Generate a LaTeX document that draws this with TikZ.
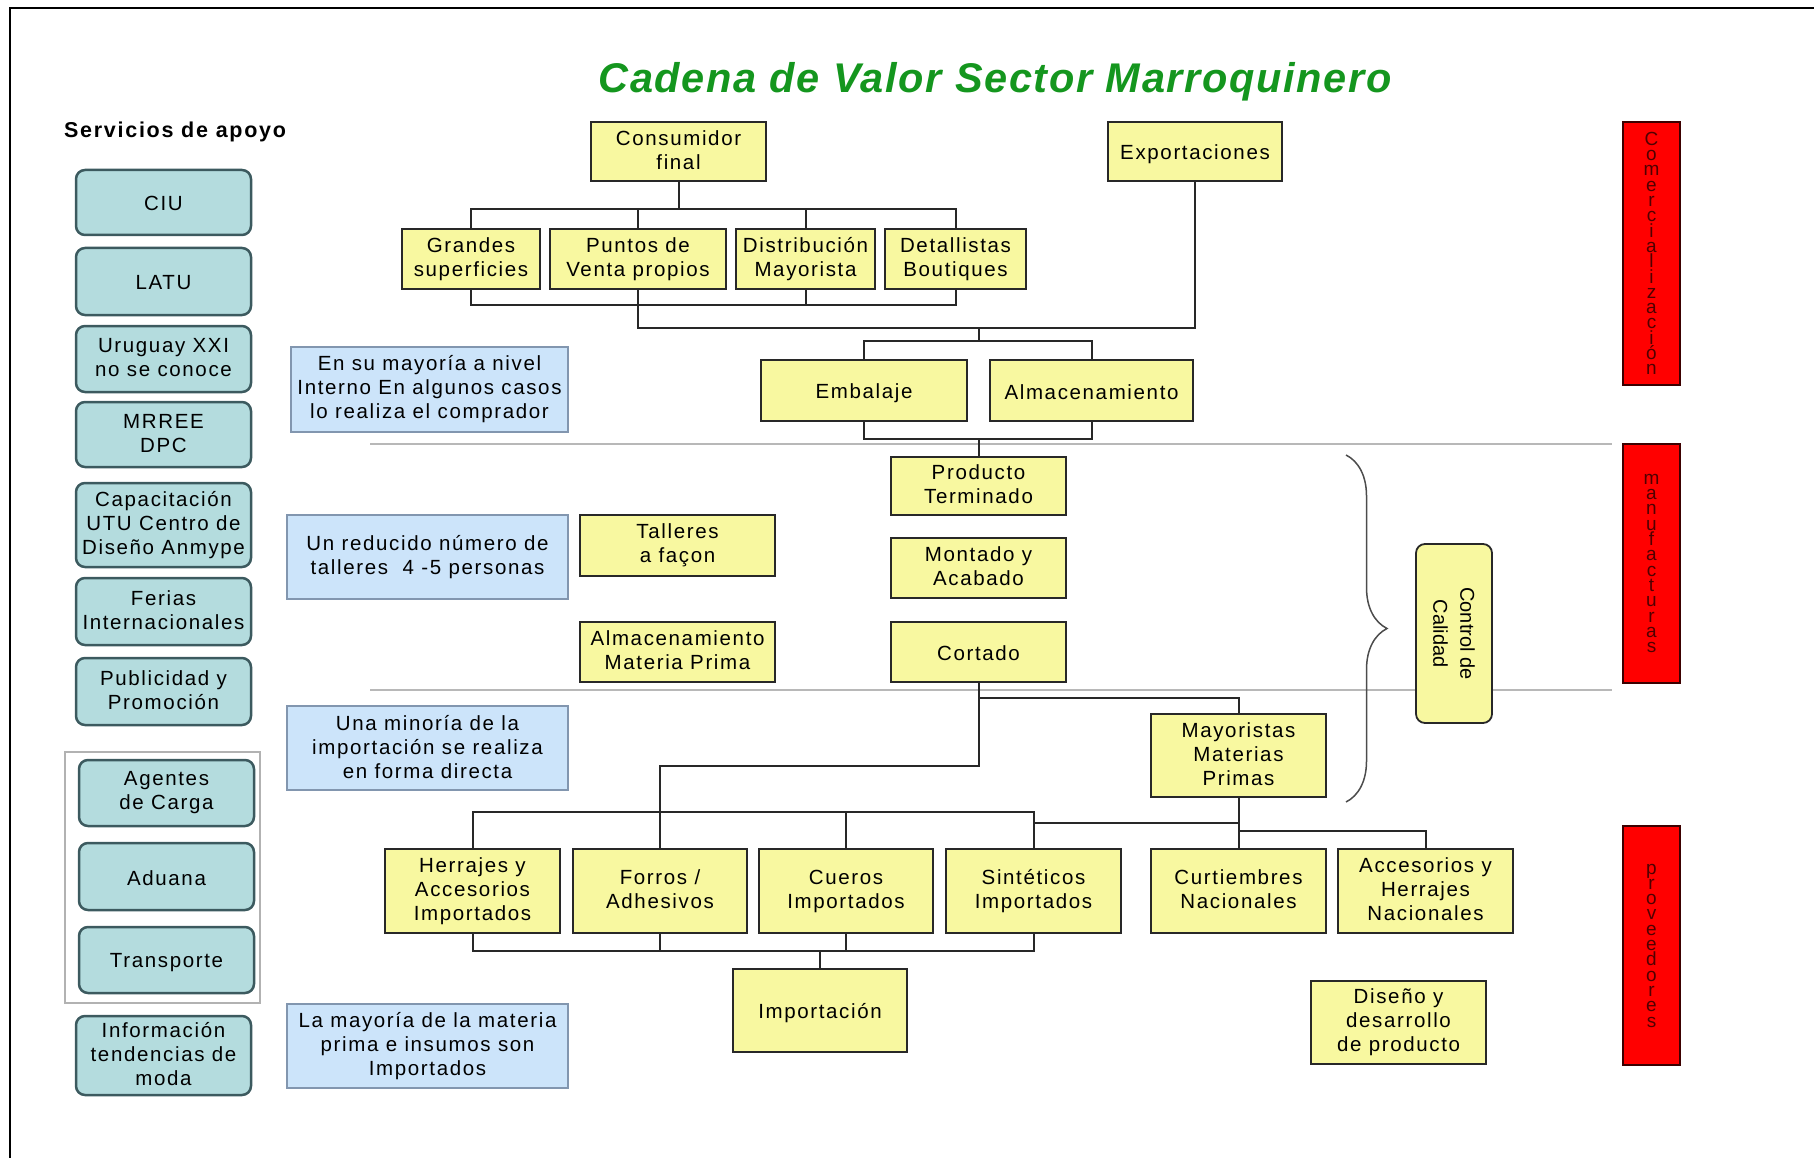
\documentclass[tikz,border=0pt]{standalone}
\usepackage{fontspec}
\setmainfont[LetterSpace=8]{Liberation Sans}
\newfontfamily\plainsans{Liberation Sans}
\newfontfamily\titlesans[LetterSpace=4]{Liberation Sans}
\usetikzlibrary{decorations.pathreplacing}
\definecolor{yfill}{RGB}{248,248,160}
\definecolor{tfill}{RGB}{180,220,222}
\definecolor{tdraw}{RGB}{60,90,95}
\definecolor{nfill}{RGB}{204,228,250}
\definecolor{ndraw}{RGB}{130,150,175}
\definecolor{lnc}{RGB}{40,40,40}
\definecolor{titlegreen}{RGB}{20,150,30}
\definecolor{barred}{RGB}{255,0,0}
\definecolor{bardraw}{RGB}{60,0,0}
\definecolor{bartxt}{RGB}{80,0,0}
\newcommand\bxfont{\fontsize{20.5}{24}\selectfont}
\begin{document}
\begin{tikzpicture}[x=1pt,y=-1pt,
  txtpos/.style={execute at begin node={\rule{0pt}{20pt}}, execute at end node={\rule[-3pt]{0pt}{3pt}}},
  ybox/.style={draw=lnc, line width=1.8pt, fill=yfill, align=center, inner sep=0pt, font=\bxfont, txtpos},
  tbox/.style={draw=tdraw, line width=2.5pt, fill=tfill, rounded corners=9pt, align=center, inner sep=0pt, minimum width=175pt, font=\bxfont, txtpos},
  nbox/.style={draw=ndraw, line width=1.3pt, fill=nfill, align=center, inner sep=0pt, font=\bxfont, txtpos},
  rbar/.style={draw=bardraw, line width=1.8pt, fill=barred, minimum width=57pt, inner sep=0pt},
  rtxt/.style={text=bartxt, align=center, inner sep=0pt, font={\plainsans\fontsize{19}{15.3}\selectfont\lineskiplimit=-20pt}},
  conn/.style={draw=lnc, line width=2pt},
  sepline/.style={draw=black!28, line width=1.8pt}]
\useasboundingbox (0,0) rectangle (1814,1158);
% frame
\draw[line width=2.5pt] (10,1158) -- (10,8) -- (1814,8);
% title
\node[anchor=base, text=titlegreen, inner sep=0pt, font={\titlesans\bfseries\itshape\fontsize{41.5}{48}\selectfont}] (title) at (995,93) {Cadena de Valor Sector Marroquinero};
\node[anchor=base west, inner sep=0pt, font={\bfseries\fontsize{21.5}{24}\selectfont}] (serv) at (64,138) {Servicios de apoyo};
% separator lines
\draw[sepline] (370,444) -- (1612,444);
\draw[sepline] (370,690) -- (1612,690);
% support services
\node[tbox, minimum height=65pt] (ciu) at (163.5,202.5) {CIU};
\node[tbox, minimum height=67pt] (latu) at (163.5,281.5) {LATU};
\node[tbox, minimum height=66pt] (uru) at (163.5,359) {Uruguay XXI\\no se conoce};
\node[tbox, minimum height=65pt] (mrree) at (163.5,434.5) {MRREE\\DPC};
\node[tbox, minimum height=84pt] (capac) at (163.5,525) {Capacitación\\UTU Centro de\\Diseño Anmype};
\node[tbox, minimum height=67pt] (ferias) at (163.5,611.5) {Ferias\\Internacionales};
\node[tbox, minimum height=67pt] (publi) at (163.5,691.5) {Publicidad y\\Promoción};
\draw[draw=black!30, line width=1.5pt] (65,752) rectangle (260,1003);
\node[tbox, minimum height=66pt] (agen) at (166.5,793) {Agentes\\de Carga};
\node[tbox, minimum height=67pt] (adua) at (166.5,876.5) {Aduana};
\node[tbox, minimum height=66pt] (trans) at (166.5,960) {Transporte};
\node[tbox, minimum height=79pt] (info) at (163.5,1055.5) {Información\\tendencias de\\moda};
% notes
\node[nbox, minimum width=277pt, minimum height=85pt] (n1) at (429.5,389.5) {En su mayoría a nivel\\Interno En algunos casos\\lo realiza el comprador};
\node[nbox, minimum width=281pt, minimum height=84pt] (n2) at (427.5,557) {Un reducido número de\\talleres\ \ 4 -5 personas};
\node[nbox, minimum width=281pt, minimum height=84pt] (n3) at (427.5,748) {Una minoría de la\\importación se realiza\\en forma directa};
\node[nbox, minimum width=281pt, minimum height=84pt] (n4) at (427.5,1046) {La mayoría de la materia\\prima e insumos son\\Importados};
% yellow boxes
\node[ybox, minimum width=175pt, minimum height=59pt] (cons) at (678.5,151.5) {Consumidor\\final};
\node[ybox, minimum width=174pt, minimum height=59pt] (expo) at (1195,151.5) {Exportaciones};
\node[ybox, minimum width=138pt, minimum height=60pt] (grand) at (471,259) {Grandes\\superficies};
\node[ybox, minimum width=176pt, minimum height=60pt] (punt) at (638,259) {Puntos de\\Venta propios};
\node[ybox, minimum width=139pt, minimum height=60pt] (distr) at (805.5,259) {Distribución\\Mayorista};
\node[ybox, minimum width=141pt, minimum height=60pt] (detal) at (955.5,259) {Detallistas\\Boutiques};
\node[ybox, minimum width=206pt, minimum height=61pt] (emb) at (864,390.5) {Embalaje};
\node[ybox, minimum width=203pt, minimum height=61pt] (alm) at (1091.5,390.5) {Almacenamiento};
\node[ybox, minimum width=175pt, minimum height=58pt] (prod) at (978.5,486) {Producto\\Terminado};
\node[ybox, minimum width=175pt, minimum height=60pt] (mont) at (978.5,568) {Montado y\\Acabado};
\node[ybox, minimum width=175pt, minimum height=60pt] (cort) at (978.5,652) {Cortado};
\node[ybox, minimum width=195pt, minimum height=61pt] (tall) at (677.5,545.5) {Talleres\\a façon};
\node[ybox, minimum width=195pt, minimum height=60pt] (almp) at (677.5,652) {Almacenamiento\\Materia Prima};
\node[ybox, minimum width=175pt, minimum height=83pt] (mayo) at (1238.5,755.5) {Mayoristas\\Materias\\Primas};
\node[ybox, minimum width=175pt, minimum height=84pt] (herr) at (472.5,891) {Herrajes y\\Accesorios\\Importados};
\node[ybox, minimum width=174pt, minimum height=84pt] (forr) at (660,891) {Forros /\\Adhesivos};
\node[ybox, minimum width=174pt, minimum height=84pt] (cuer) at (846,891) {Cueros\\Importados};
\node[ybox, minimum width=175pt, minimum height=84pt] (sint) at (1033.5,891) {Sintéticos\\Importados};
\node[ybox, minimum width=175pt, minimum height=84pt] (curt) at (1238.5,891) {Curtiembres\\Nacionales};
\node[ybox, minimum width=175pt, minimum height=84pt] (acce) at (1425.5,891) {Accesorios y\\Herrajes\\Nacionales};
\node[ybox, minimum width=174pt, minimum height=83pt] (impo) at (820,1010.5) {Importación};
\node[ybox, minimum width=175pt, minimum height=83pt] (dise) at (1398.5,1022.5) {Diseño y\\desarrollo\\de producto};
\node[ybox, rounded corners=9pt, minimum width=76pt, minimum height=179pt] (ctrl) at (1454,633.5) {};
\node[rotate=-90, align=center, inner sep=0pt, font={\plainsans\fontsize{20}{27}\selectfont}] (ctrltxt) at (ctrl.center) {Control de\\Calidad};
% brace
\draw[draw=black!70, line width=1.5pt, decorate, decoration={brace, amplitude=41pt}] (1346,455) -- (1346,802);
% red bars
\node[rbar, minimum height=263pt] (com) at (1651.5,253.5) {};
\node[rtxt] (comt) at (com.center) {C\\o\\m\\e\\r\\c\\i\\a\\l\\i\\z\\a\\c\\i\\ó\\n};
\node[rbar, minimum height=239pt] (man) at (1651.5,563.5) {};
\node[rtxt] (mant) at (man.center) {m\\a\\n\\u\\f\\a\\c\\t\\u\\r\\a\\s};
\node[rbar, minimum height=239pt] (prov) at (1651.5,945.5) {};
\node[rtxt] (provt) at (prov.center) {p\\r\\o\\v\\e\\e\\d\\o\\r\\e\\s};
% connector levels
\coordinate (b1) at (0,209);
\coordinate (b2) at (0,305);
\coordinate (b3) at (0,328);
\coordinate (b4) at (0,341);
\coordinate (b5) at (0,439);
\coordinate (b6) at (0,698);
\coordinate (b7) at (0,766);
\coordinate (b8) at (0,812);
\coordinate (b9) at (0,823);
\coordinate (b10) at (0,831);
\coordinate (b11) at (0,951);
% top tree
\draw[conn] (cons.south) -- (cons.south |- b1);
\draw[conn] (grand.north) -- (grand.north |- b1) -- (detal.north |- b1) -- (detal.north);
\draw[conn] (punt.north) -- (punt.north |- b1);
\draw[conn] (distr.north) -- (distr.north |- b1);
\draw[conn] (grand.south) -- (grand.south |- b2) -- (detal.south |- b2) -- (detal.south);
\draw[conn] (distr.south) -- (distr.south |- b2);
\draw[conn] (punt.south) -- (punt.south |- b3) -- (expo.south |- b3) -- (expo.south);
\draw[conn] (prod.north |- b3) -- (prod.north |- b4);
\draw[conn] (emb.north) -- (emb.north |- b4) -- (alm.north |- b4) -- (alm.north);
\draw[conn] (emb.south) -- (emb.south |- b5) -- (alm.south |- b5) -- (alm.south);
\draw[conn] (prod.north |- b5) -- (prod.north);
% lower tree
\draw[conn] (cort.south |- b6) -- (mayo.north |- b6) -- (mayo.north);
\draw[conn] (cort.south) -- (cort.south |- b7) -- (forr.north |- b7) -- (forr.north);
\draw[conn] (herr.north) -- (herr.north |- b8) -- (sint.north |- b8) -- (sint.north);
\draw[conn] (cuer.north) -- (cuer.north |- b8);
\draw[conn] (sint.north |- b9) -- (mayo.south |- b9);
\draw[conn] (mayo.south) -- (curt.north);
\draw[conn] (mayo.south |- b10) -- (acce.north |- b10) -- (acce.north);
\draw[conn] (herr.south) -- (herr.south |- b11) -- (sint.south |- b11) -- (sint.south);
\draw[conn] (forr.south) -- (forr.south |- b11);
\draw[conn] (cuer.south) -- (cuer.south |- b11);
\draw[conn] (impo.north) -- (impo.north |- b11);
\end{tikzpicture}
\end{document}
